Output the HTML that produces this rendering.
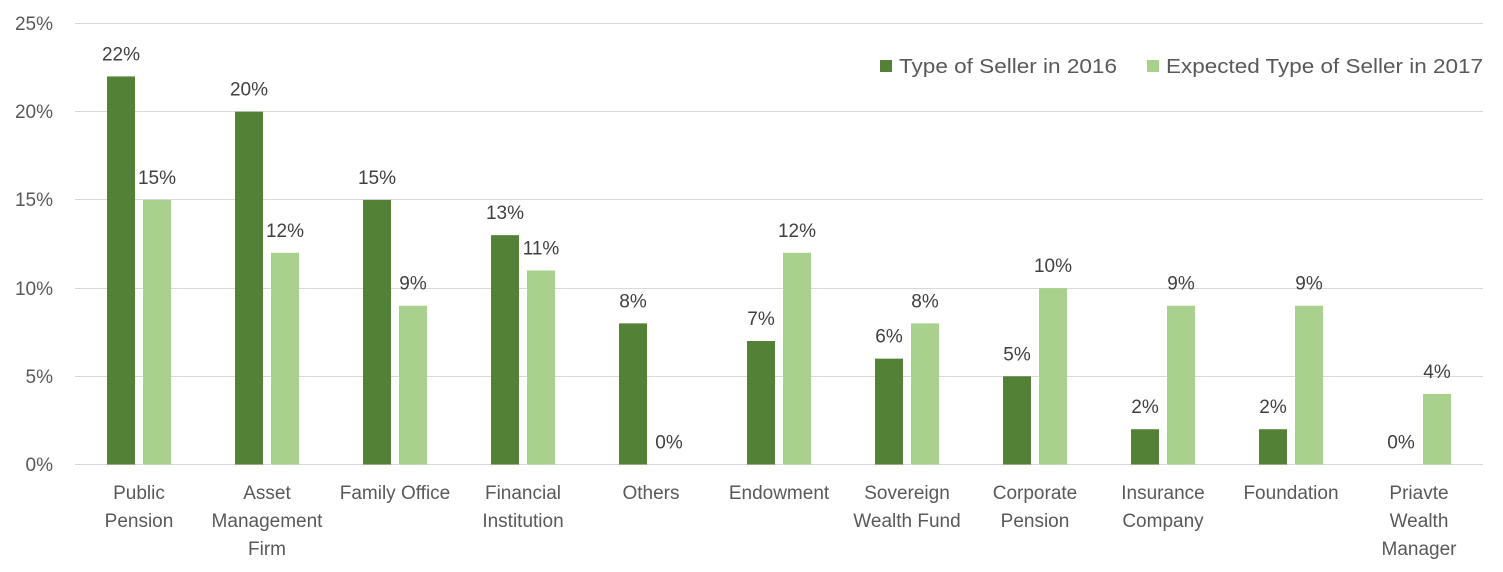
<!DOCTYPE html>
<html><head><meta charset="utf-8"><style>
html,body{margin:0;padding:0;background:#fff;}
svg{display:block;font-family:"Liberation Sans",sans-serif;}
</style></head><body>
<svg width="1503" height="572" viewBox="0 0 1503 572" xmlns="http://www.w3.org/2000/svg">
<g stroke="#d9d9d9" stroke-width="1">
<line x1="75" x2="1483" y1="23.5" y2="23.5"/>
<line x1="75" x2="1483" y1="111.5" y2="111.5"/>
<line x1="75" x2="1483" y1="199.5" y2="199.5"/>
<line x1="75" x2="1483" y1="288.5" y2="288.5"/>
<line x1="75" x2="1483" y1="376.5" y2="376.5"/>
<line x1="75" x2="1483" y1="464.5" y2="464.5"/>
</g>
<g fill="#595959" font-size="19" text-anchor="end">
<text x="53" y="30">25%</text>
<text x="53" y="118">20%</text>
<text x="53" y="206">15%</text>
<text x="53" y="295">10%</text>
<text x="53" y="383">5%</text>
<text x="53" y="471">0%</text>
</g>
<g id="bars"></g>
<g fill="#404040" font-size="19" text-anchor="middle" id="labels"></g>
<g fill="#595959" font-size="19" text-anchor="middle" id="cats"></g>
<rect x="880" y="60" width="12" height="12" fill="#538135"/>
<text x="899" y="73" font-size="20" fill="#595959" textLength="218" lengthAdjust="spacingAndGlyphs">Type of Seller in 2016</text>
<rect x="1147" y="60" width="12" height="12" fill="#a9d18e"/>
<text x="1166" y="73" font-size="20" fill="#595959" textLength="317" lengthAdjust="spacingAndGlyphs">Expected Type of Seller in 2017</text>
</svg>
<script>
var d=[["Public|Pension",22,15],["Asset|Management|Firm",20,12],["Family Office",15,9],["Financial|Institution",13,11],["Others",8,0],["Endowment",7,12],["Sovereign|Wealth Fund",6,8],["Corporate|Pension",5,10],["Insurance|Company",2,9],["Foundation",2,9],["Priavte|Wealth|Manager",0,4]];
var ns="http://www.w3.org/2000/svg";
function el(t,a,p,txt){var e=document.createElementNS(ns,t);for(var k in a)e.setAttribute(k,a[k]);if(txt!=null)e.textContent=txt;document.getElementById(p).appendChild(e);}
var s=88.2/5;
d.forEach(function(r,i){var c=139+128*i;
[[r[1],c-32,"#538135"],[r[2],c+4,"#a9d18e"]].forEach(function(b){var h=b[0]*s;
if(h>0)el("rect",{x:b[1],y:464.5-h,width:28,height:h,fill:b[2]},"bars");
el("text",{x:b[1]+14,y:464.5-h-16},"labels",b[0]+"%");});
r[0].split("|").forEach(function(l,j){el("text",{x:c,y:499+j*28},"cats",l);});
});
</script>
</body></html>
